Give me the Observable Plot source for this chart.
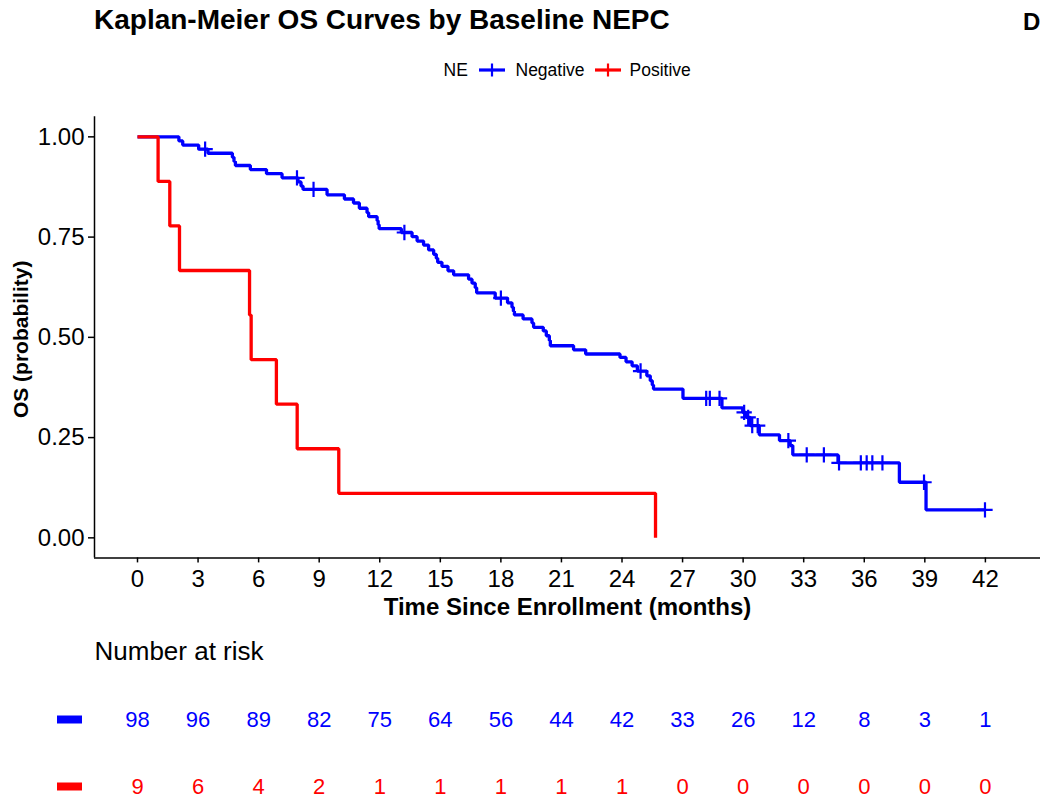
<!DOCTYPE html>
<html><head><meta charset="utf-8">
<script src="https://cdn.jsdelivr.net/npm/d3@7"></script>
<script src="https://cdn.jsdelivr.net/npm/@observablehq/plot@0.6"></script>
<style>
body{margin:0;background:#fff;font-family:"Liberation Sans",Arial,sans-serif;color:#000}
#wrap{position:relative;width:1050px;height:804px;overflow:hidden;background:#fff}
.abs{position:absolute;line-height:1;white-space:nowrap}
#main,#risk{position:absolute;left:0}
#main{top:90px}
#risk{top:630px}
</style></head><body><div id="wrap">
<div class="abs" style="left:94px;top:6px;font-size:28px;font-weight:bold">Kaplan-Meier OS Curves by Baseline NEPC</div>
<div class="abs" style="left:1023px;top:10px;font-size:24px;font-weight:bold">D</div>
<div id="legend"></div>
<div id="main"></div>
<div id="risk"></div>
</div>
<script>
// ---------- data ----------
const groups = ["Negative", "Positive"];
const groupColors = ["#0000ff", "#ff0000"];
const legendTitle = "NE";

const xTicks = [0, 3, 6, 9, 12, 15, 18, 21, 24, 27, 30, 33, 36, 39, 42];
const yTicks = [0, 0.25, 0.5, 0.75, 1];

// Negative: step points (time in months, survival)
const negTimes = [0, 2.05, 2.24, 3.03, 3.49, 4.70, 4.78, 4.85, 5.59, 6.39, 7.16, 7.95, 8.10, 8.20,
  9.39, 10.25, 10.70, 10.99, 11.37, 11.45, 11.87, 11.92, 11.97, 13.07, 13.60, 13.85, 14.17, 14.42,
  14.67, 14.80, 14.87, 15.08, 15.38, 15.66, 16.40, 16.57, 16.73, 16.80, 17.72, 18.33, 18.55, 18.62,
  18.67, 19.10, 19.54, 19.62, 20.10, 20.25, 20.40, 20.45, 21.60, 22.20, 23.90, 24.20, 24.50, 24.76,
  25.23, 25.40, 25.50, 25.56, 27.02, 28.95, 29.98, 30.15, 30.35, 30.80, 31.80, 32.33, 32.46, 34.70,
  37.74, 39.06, 41.98];
const negSurv = [1, 0.9898, 0.9796, 0.9694, 0.9591, 0.9489, 0.9387, 0.9285, 0.9183, 0.9081, 0.8979, 0.8876, 0.8773, 0.8690,
  0.8555, 0.845, 0.835, 0.822, 0.811, 0.801, 0.791, 0.781, 0.771, 0.7615, 0.751, 0.740, 0.730, 0.718,
  0.707, 0.697, 0.687, 0.677, 0.666, 0.656, 0.645, 0.635, 0.624, 0.611, 0.598, 0.586, 0.575, 0.565,
  0.556, 0.546, 0.536, 0.525, 0.516, 0.504, 0.492, 0.479, 0.469, 0.4585, 0.450, 0.439, 0.429, 0.416,
  0.404, 0.392, 0.381, 0.371, 0.348, 0.324, 0.313, 0.3005, 0.280, 0.257, 0.2425, 0.230, 0.207, 0.187,
  0.1386, 0.0698, 0.0698];
// Negative: censor marks
const negCensorTimes = [3.35, 7.90, 8.72, 13.22, 18.00, 24.92, 28.17, 28.35, 28.83, 30.05, 30.25, 30.45, 30.72,
  32.24, 33.15, 34.00, 34.75, 35.83, 36.12, 36.40, 36.90, 38.96, 41.98];
const negCensorSurv = [0.9694, 0.8979, 0.8690, 0.7615, 0.598, 0.416, 0.348, 0.348, 0.348, 0.313, 0.3005, 0.280, 0.280,
  0.2425, 0.207, 0.207, 0.187, 0.187, 0.187, 0.187, 0.187, 0.1386, 0.0698];

// Positive: step points
const posTimes = [0, 1.02, 1.60, 2.08, 5.55, 5.63, 6.88, 7.91, 9.97, 25.66];
const posSurv = [1, 0.8889, 0.7778, 0.6667, 0.5556, 0.4444, 0.3333, 0.2222, 0.1111, 0];

// Number at risk
const riskTimes = [0, 3, 6, 9, 12, 15, 18, 21, 24, 27, 30, 33, 36, 39, 42];
const negRisk = [98, 96, 89, 82, 75, 64, 56, 44, 42, 33, 26, 12, 8, 3, 1];
const posRisk = [9, 6, 4, 2, 1, 1, 1, 1, 1, 0, 0, 0, 0, 0, 0];

// ---------- build ----------
const xDomain = [-2.13, 44.73];
const yDomain = [-0.05, 1.05];
const FONT = "'Liberation Sans', Arial, sans-serif";

const negLine = negTimes.map((t, i) => ({t, s: negSurv[i]}));
const posLine = posTimes.map((t, i) => ({t, s: posSurv[i]}));
const negCens = negCensorTimes.map((t, i) => ({t, s: negCensorSurv[i]}));
const negRiskRows = riskTimes.map((t, i) => ({t, g: groups[0], n: negRisk[i]}));
const posRiskRows = riskTimes.map((t, i) => ({t, g: groups[1], n: posRisk[i]}));

// legend (HTML)
(function(){
  const L = document.getElementById("legend");
  const items = [
    {html: legendTitle, left: 443.5, type: "text"},
    {left: 479, type: "key", color: groupColors[0]},
    {html: groups[0], left: 515.5, type: "text"},
    {left: 595, type: "key", color: groupColors[1]},
    {html: groups[1], left: 629.5, type: "text"}
  ];
  for (const it of items) {
    if (it.type === "text") {
      const d = document.createElement("div");
      d.className = "abs";
      d.style.left = it.left + "px"; d.style.top = "62px"; d.style.fontSize = "17.5px";
      d.textContent = it.html;
      L.appendChild(d);
    } else {
      const ns = "http://www.w3.org/2000/svg";
      const s = document.createElementNS(ns, "svg");
      s.setAttribute("width", 26); s.setAttribute("height", 16);
      s.style.position = "absolute"; s.style.left = it.left + "px"; s.style.top = "62px";
      const h = document.createElementNS(ns, "line");
      h.setAttribute("x1", 0); h.setAttribute("x2", 26); h.setAttribute("y1", 8); h.setAttribute("y2", 8);
      h.setAttribute("stroke", it.color); h.setAttribute("stroke-width", 3.2);
      const v = document.createElementNS(ns, "line");
      v.setAttribute("x1", 13); v.setAttribute("x2", 13); v.setAttribute("y1", 1.5); v.setAttribute("y2", 14.5);
      v.setAttribute("stroke", it.color); v.setAttribute("stroke-width", 2.2);
      s.appendChild(h); s.appendChild(v);
      L.appendChild(s);
    }
  }
})();

const main = Plot.plot({
  width: 1050, height: 540,
  marginLeft: 94, marginRight: 10, marginTop: 26.3, marginBottom: 72.6,
  style: {fontFamily: FONT, fontSize: "24px", background: "white", overflow: "visible", color: "black"},
  x: {domain: xDomain},
  y: {domain: yDomain},
  marks: [
    Plot.axisX({ticks: xTicks, tickFormat: d => String(d), tickSize: 5, tickPadding: 7, label: null, fontSize: 24, strokeWidth: 1.5}),
    Plot.axisY({ticks: yTicks, tickFormat: d3.format(".2f"), tickSize: 6, tickPadding: 4, label: null, fontSize: 24, strokeWidth: 1.5}),
    Plot.ruleY([yDomain[0]], {stroke: "black", strokeWidth: 1.5}),
    Plot.ruleX([xDomain[0]], {stroke: "black", strokeWidth: 1.5}),
    Plot.line(negLine, {x: "t", y: "s", curve: "step-after", stroke: groupColors[0], strokeWidth: 3.3, strokeLinejoin: "miter", strokeLinecap: "butt"}),
    Plot.dot(negCens, {x: "t", y: "s", symbol: "plus", r: 5, stroke: groupColors[0], strokeWidth: 2.2}),
    Plot.line(posLine, {x: "t", y: "s", curve: "step-after", stroke: groupColors[1], strokeWidth: 3.3, strokeLinejoin: "miter", strokeLinecap: "butt"}),
    Plot.text(["Time Since Enrollment (months)"], {text: d => d, frameAnchor: "bottom", dy: 40.5, lineAnchor: "top", fontWeight: "bold", fontSize: 24}),
    Plot.text(["OS (probability)"], {text: d => d, frameAnchor: "left", dx: -73, dy: 2, rotate: -90, lineAnchor: "middle", textAnchor: "middle", fontWeight: "bold", fontSize: 21})
  ]
});
document.getElementById("main").appendChild(main);

const risk = Plot.plot({
  width: 1050, height: 174,
  marginLeft: 94, marginRight: 10, marginTop: 0, marginBottom: 0,
  style: {fontFamily: FONT, fontSize: "22px", background: "white", overflow: "visible"},
  x: {domain: xDomain, axis: null},
  y: {type: "point", domain: groups, range: [88.6, 156], padding: 0, axis: null},
  marks: [
    Plot.text(["Number at risk"], {text: d => d, frameAnchor: "top-left", dy: 11.5, lineAnchor: "top", textAnchor: "start", fontSize: 26, fill: "black"}),
    Plot.tickY([groups[0]], {y: d => d, stroke: groupColors[0], strokeWidth: 8, insetLeft: -37, insetRight: 958}),
    Plot.tickY([groups[1]], {y: d => d, stroke: groupColors[1], strokeWidth: 8, insetLeft: -37, insetRight: 958}),
    Plot.text(negRiskRows, {x: "t", y: "g", text: "n", fill: groupColors[0], fontSize: 22, lineAnchor: "middle"}),
    Plot.text(posRiskRows, {x: "t", y: "g", text: "n", fill: groupColors[1], fontSize: 22, lineAnchor: "middle"})
  ]
});
document.getElementById("risk").appendChild(risk);
</script>
</body></html>
